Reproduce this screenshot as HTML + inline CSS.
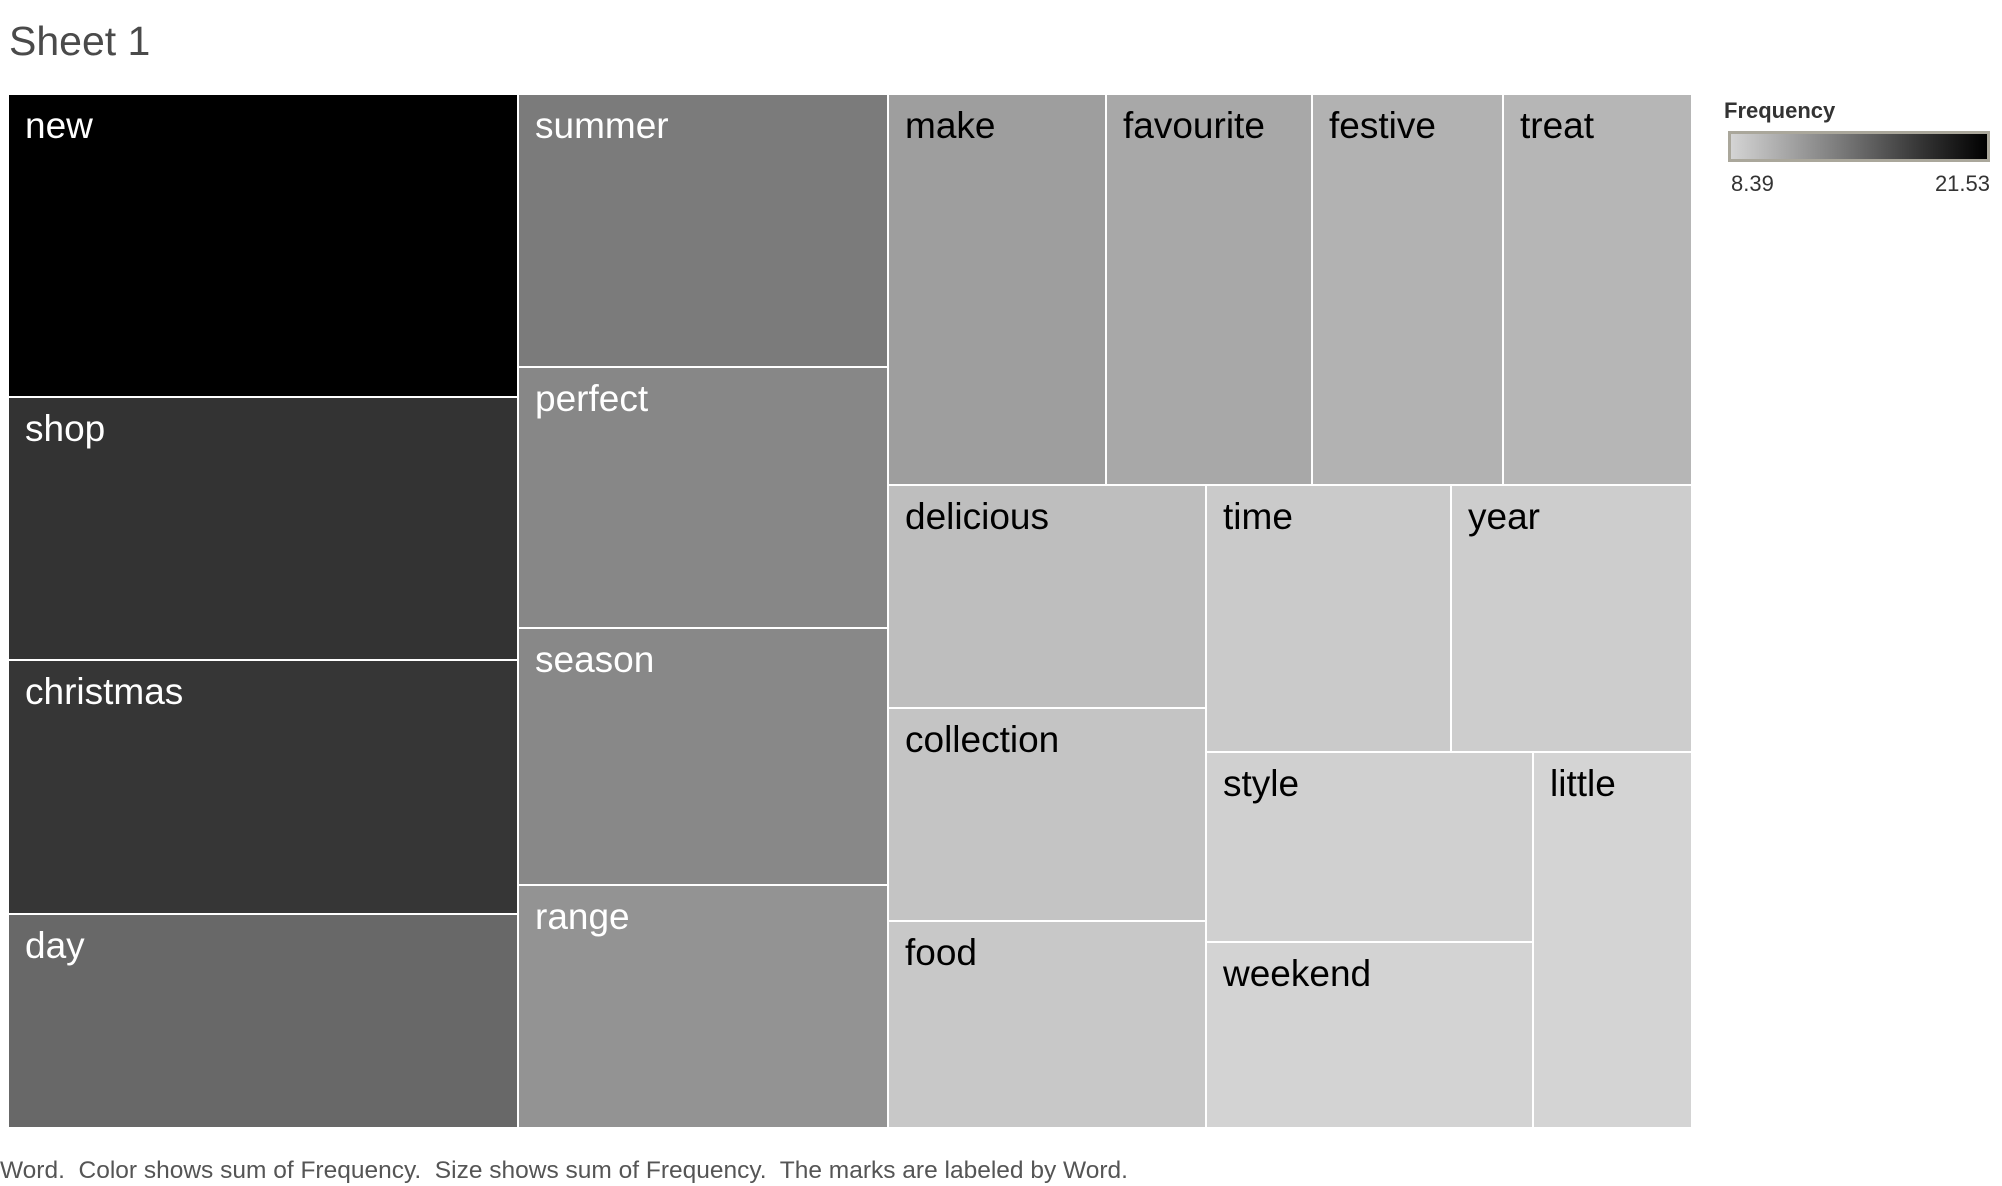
<!DOCTYPE html>
<html><head><meta charset="utf-8"><style>
html,body{margin:0;padding:0;background:#fff;}
body{width:2002px;height:1186px;position:relative;overflow:hidden;font-family:"Liberation Sans",sans-serif;}
.c{position:absolute;box-sizing:border-box;}
.c span{position:absolute;left:16px;top:12px;font-size:37px;line-height:37px;white-space:nowrap;}
.w span{color:#fff;} .k span{color:#000;}
</style></head><body>
<div style="position:absolute;left:9px;top:18px;font-size:41px;color:#4a4a4a;">Sheet 1</div>

<div class="c w" style="left:9px;top:95px;width:508px;height:301px;background:#000"><span>new</span></div>
<div class="c w" style="left:9px;top:398px;width:508px;height:261px;background:#333"><span>shop</span></div>
<div class="c w" style="left:9px;top:661px;width:508px;height:252px;background:#363636"><span>christmas</span></div>
<div class="c w" style="left:9px;top:915px;width:508px;height:212px;background:#686868"><span>day</span></div>

<div class="c w" style="left:519px;top:95px;width:368px;height:271px;background:#7b7b7b"><span>summer</span></div>
<div class="c w" style="left:519px;top:368px;width:368px;height:259px;background:#878787"><span>perfect</span></div>
<div class="c w" style="left:519px;top:629px;width:368px;height:255px;background:#888"><span>season</span></div>
<div class="c w" style="left:519px;top:886px;width:368px;height:241px;background:#939393"><span>range</span></div>

<div class="c k" style="left:889px;top:95px;width:216px;height:389px;background:#9e9e9e"><span>make</span></div>
<div class="c k" style="left:1107px;top:95px;width:204px;height:389px;background:#a8a8a8"><span>favourite</span></div>
<div class="c k" style="left:1313px;top:95px;width:189px;height:389px;background:#b2b2b2"><span>festive</span></div>
<div class="c k" style="left:1504px;top:95px;width:187px;height:389px;background:#b6b6b6"><span>treat</span></div>

<div class="c k" style="left:889px;top:486px;width:316px;height:221px;background:#bebebe"><span>delicious</span></div>
<div class="c k" style="left:889px;top:709px;width:316px;height:211px;background:#c4c4c4"><span>collection</span></div>
<div class="c k" style="left:889px;top:922px;width:316px;height:205px;background:#c8c8c8"><span>food</span></div>

<div class="c k" style="left:1207px;top:486px;width:243px;height:265px;background:#cacaca"><span>time</span></div>
<div class="c k" style="left:1452px;top:486px;width:239px;height:265px;background:#cdcdcd"><span>year</span></div>
<div class="c k" style="left:1207px;top:753px;width:325px;height:188px;background:#d0d0d0"><span>style</span></div>
<div class="c k" style="left:1207px;top:943px;width:325px;height:184px;background:#d3d3d3"><span>weekend</span></div>
<div class="c k" style="left:1534px;top:753px;width:157px;height:374px;background:#d4d4d4"><span>little</span></div>

<div style="position:absolute;left:1724px;top:98px;font-size:22px;font-weight:bold;color:#333;">Frequency</div>
<div style="position:absolute;left:1728px;top:131px;width:262px;height:31px;box-sizing:border-box;border:3px solid #aaa79b;background:linear-gradient(to right,#d4d4d4,#808080 40%,#333 75%,#000);"></div>
<div style="position:absolute;left:1731px;top:171px;font-size:22px;color:#333;">8.39</div>
<div style="position:absolute;right:12px;top:171px;font-size:22px;color:#333;">21.53</div>

<div style="position:absolute;left:0px;top:1157px;font-size:24.5px;color:#555;white-space:nowrap;">Word.&nbsp; Color shows sum of Frequency.&nbsp; Size shows sum of Frequency.&nbsp; The marks are labeled by Word.</div>
</body></html>
